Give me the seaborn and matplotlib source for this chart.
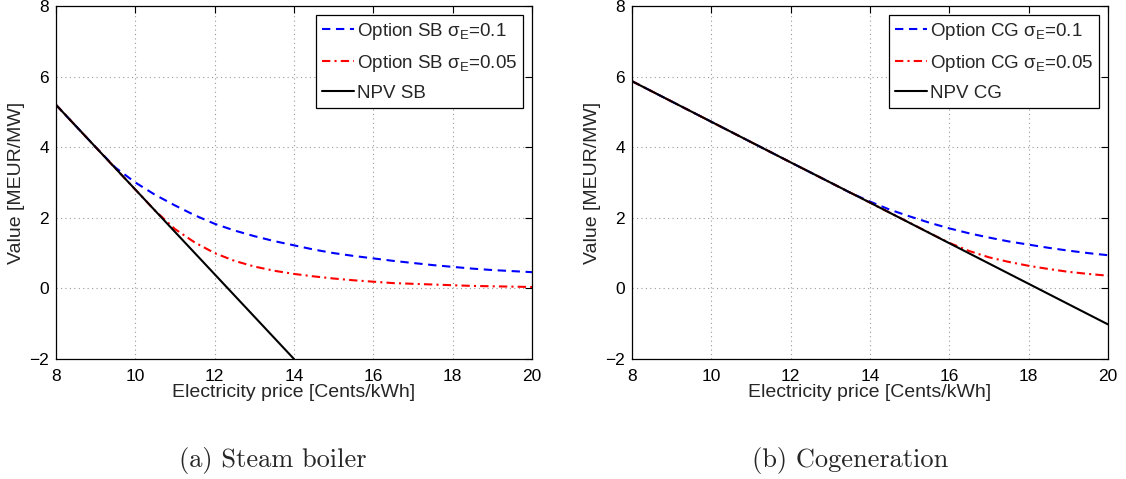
import matplotlib
matplotlib.use("Agg")
import matplotlib.pyplot as plt
import seaborn as sns
import pandas as pd

# ---- data ----
price_sb_npv = [8, 14]
npv_sb = [5.2, -2.0]

price_sb_opt = [8, 8.5, 9, 9.5, 10, 10.5, 11, 11.5, 12, 12.5, 13, 13.5, 14,
                14.5, 15, 15.5, 16, 16.5, 17, 17.5, 18, 18.5, 19, 19.5, 20]
opt_sb_01 = [5.2, 4.6, 4.0, 3.42, 3.0, 2.65, 2.35, 2.07, 1.83, 1.64, 1.48, 1.34, 1.22,
             1.10, 1.0, 0.92, 0.85, 0.78, 0.72, 0.66, 0.61, 0.56, 0.52, 0.49, 0.46]
opt_sb_005 = [5.2, 4.6, 4.0, 3.4, 2.8, 2.2, 1.68, 1.3, 1.0, 0.78, 0.62, 0.5, 0.41,
              0.34, 0.28, 0.23, 0.19, 0.15, 0.13, 0.11, 0.09, 0.07, 0.06, 0.05, 0.04]

price_cg_npv = [8, 10, 12, 14, 16, 18, 20]
npv_cg = [5.87, 4.72, 3.57, 2.43, 1.28, 0.13, -1.02]

price_cg_01 = [8, 10, 12, 13, 13.5, 14, 14.5, 15, 15.5, 16, 16.5, 17, 17.5,
               18, 18.5, 19, 19.5, 20]
opt_cg_01 = [5.87, 4.72, 3.57, 3.0, 2.71, 2.46, 2.23, 2.04, 1.86, 1.70, 1.56, 1.44, 1.33,
             1.24, 1.15, 1.07, 1.0, 0.94]
price_cg_005 = [8, 10, 12, 14, 15, 15.5, 16, 16.5, 17, 17.5, 18, 18.5, 19, 19.5, 20]
opt_cg_005 = [5.87, 4.72, 3.57, 2.43, 1.86, 1.57, 1.29, 1.06, 0.88, 0.75, 0.64, 0.55,
              0.47, 0.41, 0.36]

x_ticks = [8, 10, 12, 14, 16, 18, 20]
y_ticks = [-2, 0, 2, 4, 6, 8]
captions = ["(a) Steam boiler", "(b) Cogeneration"]

sns.set_style("white")
plt.rcParams['font.family'] = ['Liberation Sans', 'DejaVu Sans']
plt.rcParams['mathtext.fontset'] = 'custom'
plt.rcParams['mathtext.rm'] = 'Liberation Sans'
plt.rcParams['mathtext.it'] = 'Liberation Sans'

fig = plt.figure(figsize=(11.26, 4.79), dpi=100)
ax1 = fig.add_axes([56 / 1126, 120 / 479, 476 / 1126, 353 / 479])
ax2 = fig.add_axes([632 / 1126, 120 / 479, 476 / 1126, 353 / 479])

panels = [
    (ax1, "SB", (price_sb_opt, opt_sb_01), (price_sb_opt, opt_sb_005), (price_sb_npv, npv_sb)),
    (ax2, "CG", (price_cg_01, opt_cg_01), (price_cg_005, opt_cg_005), (price_cg_npv, npv_cg)),
]

for ax, tag, s1, s2, s3 in panels:
    sns.lineplot(x=s1[0], y=s1[1], ax=ax, color="#0000ff", lw=1.5,
                 label=f"Option {tag} $\\sigma_E$=0.1")
    sns.lineplot(x=s2[0], y=s2[1], ax=ax, color="#ff0000", lw=1.5,
                 label=f"Option {tag} $\\sigma_E$=0.05")
    sns.lineplot(x=s3[0], y=s3[1], ax=ax, color="black", lw=1.5,
                 label=f"NPV {tag}")
    lines = ax.get_lines()
    lines[0].set_linestyle((0, (4, 2.7)))
    lines[1].set_linestyle((0, (4, 2, 1, 2)))
    ax.set_xlim(8, 20)
    ax.set_ylim(-2, 8)
    ax.set_xticks(x_ticks)
    ax.set_yticks(y_ticks)
    ax.tick_params(direction='in', top=True, right=True, length=5, width=0.8,
                   labelsize=12.5, pad=5, colors='black')
    ax.tick_params(axis='x', pad=7)
    ax.grid(True, linestyle=(0, (1, 3)), color='#999999', lw=0.8)
    for sp in ax.spines.values():
        sp.set_visible(True)
        sp.set_color('black')
        sp.set_linewidth(0.9)
    ax.set_xlabel("Electricity price [Cents/kWh]", fontsize=14, labelpad=0)
    ax.set_ylabel("Value [MEUR/MW]", fontsize=14, labelpad=3)
    leg = ax.legend(loc='upper right', fontsize=13.5, frameon=True, fancybox=False,
                    edgecolor='black', handlelength=1.7, handletextpad=0.15,
                    labelspacing=0.58, borderpad=0.3, borderaxespad=0.5)
    leg.get_frame().set_linewidth(0.9)
    leg.get_frame().set_alpha(1)

fig.text(273 / 1126, 1 - 460 / 479, captions[0], family='cmr10', fontsize=19,
         ha='center', va='center')
fig.text(850 / 1126, 1 - 460 / 479, captions[1], family='cmr10', fontsize=19,
         ha='center', va='center')

fig.savefig("out.png", dpi=100)
